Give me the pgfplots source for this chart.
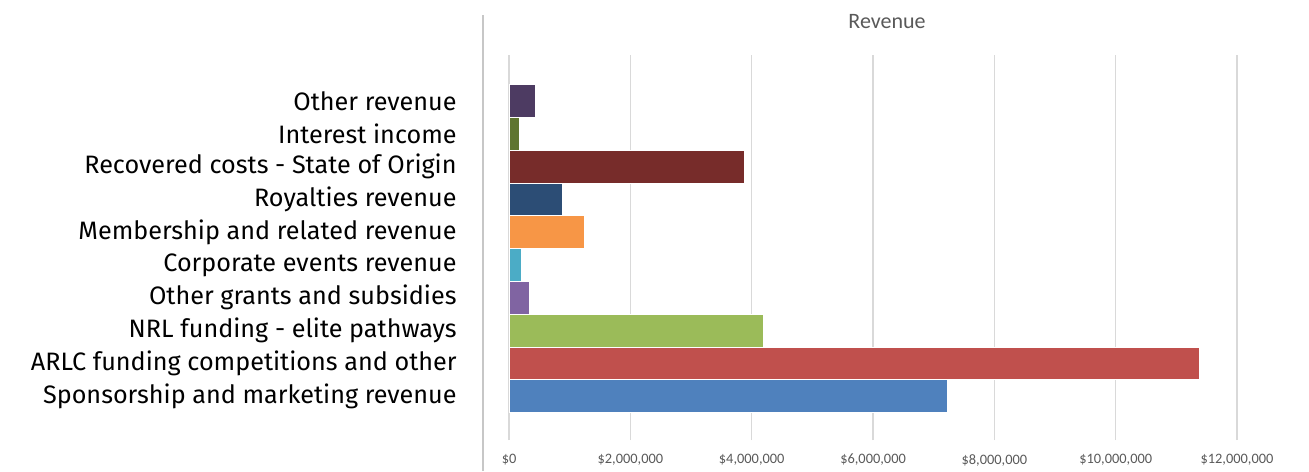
\documentclass[border=0pt]{standalone}
\usepackage{fontspec}
\setmainfont{Fira Sans}
\newfontfamily\carlito{Carlito}
\usepackage{pgfplots}
\pgfplotsset{compat=1.18}

\definecolor{cSpon}{HTML}{4F81BD}
\definecolor{cArlc}{HTML}{C0504D}
\definecolor{cNrl}{HTML}{9BBB59}
\definecolor{cGrant}{HTML}{8064A2}
\definecolor{cCorp}{HTML}{4BACC6}
\definecolor{cMemb}{HTML}{F79646}
\definecolor{cRoyal}{HTML}{2C4D75}
\definecolor{cRecov}{HTML}{772C2A}
\definecolor{cInt}{HTML}{5F7530}
\definecolor{cOther}{HTML}{4D3B62}
\definecolor{gridgray}{HTML}{D9D9D9}
\definecolor{txtgray}{HTML}{595959}

\begin{document}
\begin{tikzpicture}
\useasboundingbox (0,0) rectangle (654.5pt,235.5pt);
% left border line of the chart area
\draw[color=gridgray!80!gray, line width=0.6pt] (241.5pt,0pt) -- (241.5pt,228pt);
\node[font=\carlito\fontsize{11}{12}\selectfont, text=txtgray] at (443.5pt,224.5pt) {Revenue};
\begin{axis}[
    at={(241.5pt,15.5pt)}, anchor=south west,
    scale only axis,
    width=377pt, height=192.5pt,
    xbar, bar shift=0pt, bar width=1,
    xmin=-430000, xmax=12000000,
    ymin=-1.34, ymax=10.4,
    axis line style={draw=none},
    major tick length=0pt,
    scaled x ticks=false,
    xmajorgrids, grid style={color=gridgray, line width=0.6pt},
    xtick={0,2000000,4000000,6000000,8000000,10000000,12000000},
    xticklabels={\$0,{\$2,000,000},{\$4,000,000},{\$6,000,000},{\$8,000,000},{\$10,000,000},{\$12,000,000}},
    xticklabel style={font=\carlito\fontsize{7.2}{8}\selectfont, text=txtgray, anchor=center, yshift=-10pt},
    ytick={0,...,9},
    yticklabels={Sponsorship and marketing revenue, ARLC funding competitions and other, NRL funding - elite pathways, Other grants and subsidies, Corporate events revenue, Membership and related revenue, Royalties revenue, Recovered costs - State of Origin, Interest income, Other revenue},
    yticklabel style={font=\fontsize{12.6}{14}\selectfont, anchor=east, inner sep=0pt, xshift=-13pt},
    every axis plot/.append style={draw=white, line width=0.3pt},
]
\addplot[fill=cSpon]  coordinates {(7230000,0)};
\addplot[fill=cArlc]  coordinates {(11370000,1)};
\addplot[fill=cNrl]   coordinates {(4190000,2)};
\addplot[fill=cGrant] coordinates {(335000,3)};
\addplot[fill=cCorp]  coordinates {(203000,4)};
\addplot[fill=cMemb]  coordinates {(1240000,5)};
\addplot[fill=cRoyal] coordinates {(874000,6)};
\addplot[fill=cRecov] coordinates {(3885000,7)};
\addplot[fill=cInt]   coordinates {(175000,8)};
\addplot[fill=cOther] coordinates {(434000,9)};
\end{axis}
\end{tikzpicture}
\end{document}
